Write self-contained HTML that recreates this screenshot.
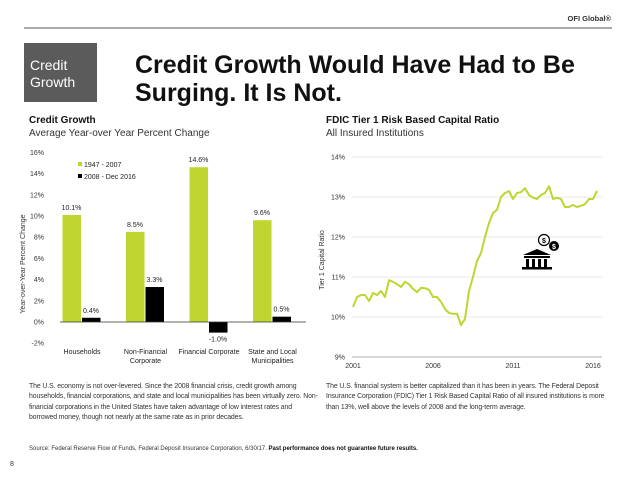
<!DOCTYPE html>
<html><head><meta charset="utf-8"><style>
body{margin:0;width:640px;height:480px;background:#fff;font-family:"Liberation Sans",Arial,sans-serif;overflow:hidden}
svg{display:block}
.p{position:absolute;font-size:6.9px;line-height:10.4px;color:#333;letter-spacing:-0.1px}
</style></head><body>
<svg id="s" width="640" height="480" xmlns="http://www.w3.org/2000/svg" font-family="Liberation Sans, Arial, sans-serif">
<text x="611" y="21" font-size="7.5" font-weight="bold" text-anchor="end" fill="#333">OFI Global®</text>
<line x1="24" y1="28" x2="612" y2="28" stroke="#555" stroke-width="1"/>
<rect x="24" y="43" width="73" height="59" fill="#5b5b5b"/>
<text x="30" y="70" font-size="14" fill="#fff"><tspan x="30">Credit</tspan><tspan x="30" dy="17">Growth</tspan></text>
<text font-size="25" font-weight="bold" fill="#111"><tspan x="135" y="73">Credit Growth Would Have Had to Be</tspan><tspan x="135" y="101">Surging.  It Is Not.</tspan></text>
<text x="29" y="123" font-size="10" font-weight="bold" fill="#111">Credit Growth</text>
<text x="29" y="136" font-size="10" fill="#333">Average Year-over Year Percent Change</text>
<text x="326" y="123" font-size="10" font-weight="bold" fill="#111">FDIC Tier 1 Risk Based Capital Ratio</text>
<text x="326" y="136" font-size="10" fill="#333">All Insured Institutions</text>
<g id="bar"></g>
<g id="line"></g>
<text x="29" y="450" font-size="6" fill="#333">Source: Federal Reserve Flow of Funds, Federal Deposit Insurance Corporation, 6/30/17. <tspan font-weight="bold" fill="#111">Past performance does not guarantee future results.</tspan></text>
<text x="10" y="466" font-size="7" fill="#333">8</text>
</svg>
<div class="p" style="left:29px;top:382px;width:292px">The U.S. economy is not over-levered. Since the 2008 financial crisis, credit growth among households, financial corporations, and state and local municipalities has been virtually zero. Non-financial corporations in the United States have taken advantage of low interest rates and borrowed money, though not nearly at the same rate as in prior decades.</div>
<div class="p" style="left:326px;top:382px;width:290px">The U.S. financial system is better capitalized than it has been in years. The Federal Deposit Insurance Corporation (FDIC) Tier 1 Risk Based Capital Ratio of all insured institutions is more than 13%, well above the levels of 2008 and the long-term average.</div>
<script>
const categories=["Households","Non-Financial|Corporate","Financial Corporate","State and Local|Municipalities"];
const series1=[10.1,8.5,14.6,9.6];
const series2=[0.4,3.3,-1.0,0.5];
const barTicks=[-2,0,2,4,6,8,10,12,14,16];
const capitalValues=[10.25,10.5,10.55,10.55,10.4,10.6,10.55,10.65,10.5,10.92,10.88,10.82,10.75,10.88,10.82,10.7,10.62,10.73,10.72,10.68,10.5,10.5,10.38,10.2,10.1,10.08,10.08,9.8,9.95,10.65,11.0,11.4,11.6,12.0,12.35,12.6,12.68,13.0,13.1,13.15,12.95,13.1,13.12,13.22,13.05,12.98,12.95,13.05,13.1,13.27,12.95,12.98,12.95,12.75,12.75,12.8,12.75,12.78,12.82,12.95,12.95,13.15];
const lineYTicks=[9,10,11,12,13,14];
const lineXTicks=[2001,2006,2011,2016];
const NS="http://www.w3.org/2000/svg";
function mk(p,t,a){const e=document.createElementNS(NS,t);for(const k in a)e.setAttribute(k,a[k]);p.appendChild(e);return e;}
const bg=document.getElementById('bar');
const by=v=>322-v*10.6;
const cx=i=>82+i*63.5;
barTicks.forEach(t=>{const e=mk(bg,'text',{x:44,y:by(t)+2.5,'font-size':7,'text-anchor':'end',fill:'#333'});e.textContent=t+'%';

});
const yt=mk(bg,'text',{x:0,y:0,'font-size':7,'text-anchor':'middle',fill:'#333',transform:'translate(25,264) rotate(-90)'});yt.textContent='Year-over-Year Percent Change';


categories.forEach((c,i)=>{
 const x=cx(i);
 [[series1[i],'#bed62f',x-19.5],[series2[i],'#000',x]].forEach(([v,col,x0],j)=>{
  const r=mk(bg,'rect',{x:x0,y:Math.min(by(v),by(0)),width:18.5,height:Math.abs(by(v)-by(0)),fill:col});
  
  
  const l=mk(bg,'text',{x:x0+9,y:v>=0?by(v)-5:by(v)+9,'font-size':7,'text-anchor':'middle',fill:'#222'});l.textContent=v.toFixed(1)+'%';
  
  
 });
 c.split('|').forEach((s,k)=>{const t=mk(bg,'text',{x:x,y:354+k*9,'font-size':7,'text-anchor':'middle',fill:'#222'});t.textContent=s;
 
 });
});
const zl=mk(bg,'line',{x1:60,x2:306,y1:by(0),y2:by(0),stroke:'#333','stroke-width':0.8});


[['1947 - 2007','#bed62f',167],['2008 - Dec 2016','#000',179]].forEach(([t,c,y])=>{
 const g=mk(bg,'g',{});
 
 
 mk(g,'rect',{x:78,y:y-5,width:4,height:4,fill:c});
 const tx=mk(g,'text',{x:84,y:y,'font-size':7,fill:'#222'});tx.textContent=t;
});
const lg=document.getElementById('line');
const ly=v=>357-(v-9)*40;
const lx=t=>353+(t-2001)*16;
lineYTicks.forEach(t=>{
 const gl=mk(lg,'line',{x1:352,x2:602,y1:ly(t),y2:ly(t),stroke:t==9?'#999':'#e3e3e3','stroke-width':0.8});
 
 
 const e=mk(lg,'text',{x:345,y:ly(t)+2.5,'font-size':7,'text-anchor':'end',fill:'#333'});e.textContent=t+'%';
 
 
});
lineXTicks.forEach(t=>{const e=mk(lg,'text',{x:lx(t),y:368,'font-size':7,'text-anchor':'middle',fill:'#333'});e.textContent=t;

});
const lt=mk(lg,'text',{x:0,y:0,'font-size':7,'text-anchor':'middle',fill:'#333',transform:'translate(324,260) rotate(-90)'});lt.textContent='Tier 1 Capital Ratio';


const pts=capitalValues.map((v,i)=>lx(2001+i*0.25).toFixed(1)+','+ly(v).toFixed(1)).join(' ');
const pl=mk(lg,'polyline',{points:pts,fill:'none',stroke:'#bed62f','stroke-width':2,'stroke-linejoin':'round'});


const ic=mk(lg,'g',{});


mk(ic,'polygon',{points:'523,255 537,249 551,255',fill:'#000'});
mk(ic,'rect',{x:524,y:256,width:26,height:2,fill:'#000'});
[526,532,538,544].forEach(x=>mk(ic,'rect',{x:x,y:259,width:3,height:8,fill:'#000'}));
mk(ic,'rect',{x:522,y:267,width:30,height:2.5,fill:'#000'});
mk(ic,'circle',{cx:554,cy:246,r:5,fill:'#000'});
const d2=mk(ic,'text',{x:554,y:249,'font-size':7,'font-weight':'bold','text-anchor':'middle',fill:'#fff'});d2.textContent='$';
mk(ic,'circle',{cx:544,cy:240,r:5.5,fill:'#fff',stroke:'#000','stroke-width':1.2});
const d1=mk(ic,'text',{x:544,y:243,'font-size':7,'font-weight':'bold','text-anchor':'middle',fill:'#000'});d1.textContent='$';
</script>
</body></html>
